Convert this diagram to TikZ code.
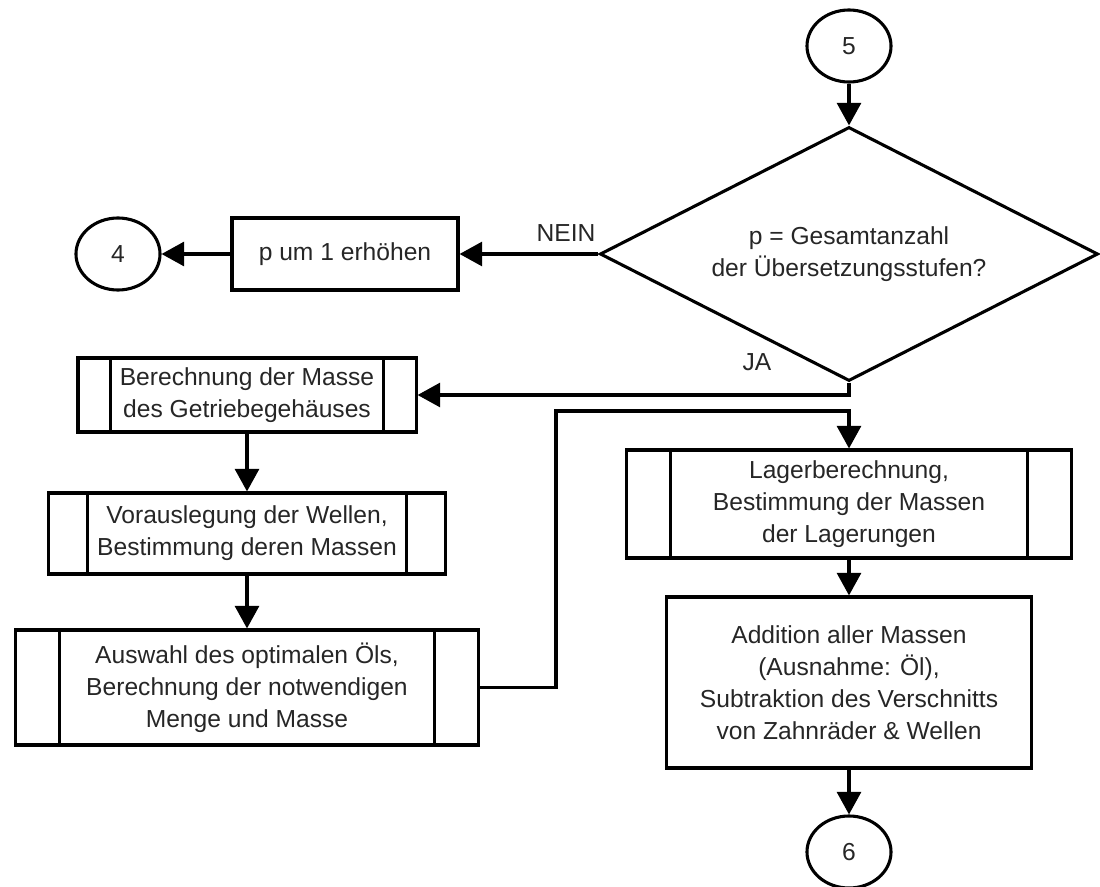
\documentclass[tikz,border=0pt]{standalone}
\usepackage{fontspec}
\setmainfont{Liberation Sans}
\usetikzlibrary{shapes.geometric,arrows.meta}

\begin{document}
\begin{tikzpicture}[x=0.025cm, y=-0.025cm,
    every node/.style={font=\fontsize{17.5}{22.7}\selectfont, text=black!85, align=center},
    block/.style={draw, rectangle, line width=2.2pt, inner sep=0pt},
    conn/.style={draw, ellipse, line width=2.2pt, inner sep=0pt,
      minimum width=2.1cm, minimum height=1.8cm},
    flow/.style={line width=2.2pt, -{Triangle[length=16pt, width=17pt]}}]

  \useasboundingbox (0,0) rectangle (1100,887);

  % Page connectors
  \node[conn] (c5) at (849,46)  {5};
  \node[conn] (c4) at (118,254) {4};
  \node[conn] (c6) at (849,852) {6};

  % Decision
  \node[draw, diamond, aspect=2, line width=2.2pt, inner sep=0pt,
    minimum width=12.45cm, minimum height=6.35cm] (dec) at (849,254)
    {p = Gesamtanzahl\\der Übersetzungsstufen?};

  % Process blocks
  \node[block, minimum width=5.65cm, minimum height=1.8cm] (inc) at (345,254)
    {p um 1 erhöhen};
  \node[block, minimum width=8.45cm, minimum height=1.85cm] (house) at (247,395)
    {Berechnung der Masse\\des Getriebegehäuses};
  \node[block, minimum width=9.9cm, minimum height=2.025cm] (shaft) at (247,533.5)
    {Vorauslegung der Wellen,\\Bestimmung deren Massen};
  \node[block, minimum width=11.55cm, minimum height=2.875cm] (oil) at (247,687.5)
    {Auswahl des optimalen Öls,\\Berechnung der notwendigen\\Menge und Masse};
  \node[block, minimum width=11.1cm, minimum height=2.7cm] (bear) at (849,504)
    {Lagerberechnung,\\Bestimmung der Massen\\der Lagerungen};
  \node[block, minimum width=9.125cm, minimum height=4.275cm] (sum) at (849,682.5)
    {Addition aller Massen\\(Ausnahme: Öl),\\Subtraktion des Verschnitts\\von Zahnräder \& Wellen};

  % Side bars of the predefined processes
  \foreach \n/\d in {house/34, shaft/40, oil/45, bear/45}{
    \draw[line width=2.2pt] ([xshift=\d*0.025cm]\n.north west) -- ([xshift=\d*0.025cm]\n.south west);
    \draw[line width=2.2pt] ([xshift=-\d*0.025cm]\n.north east) -- ([xshift=-\d*0.025cm]\n.south east);
  }

  % Flow lines
  \draw[flow] (c5.south) -- (dec.north);
  \draw[flow] (dec.west) -- (inc.east);
  \draw[flow] (inc.west) -- (c4.east);
  \draw[flow] (dec.south) |- (house.east);
  \draw[flow] (house.south) -- (shaft.north);
  \draw[flow] (shaft.south) -- (oil.north);

  \coordinate (k1) at (556,411);
  \draw[flow] (oil.east) -| (k1) -| (bear.north);
  \draw[flow] (bear.south) -- (sum.north);
  \draw[flow] (sum.south) -- (c6.north);

  % Labels
  \node (no)  at (566,233) {NEIN};
  \node (yes) at (757,362) {JA};

\end{tikzpicture}
\end{document}
